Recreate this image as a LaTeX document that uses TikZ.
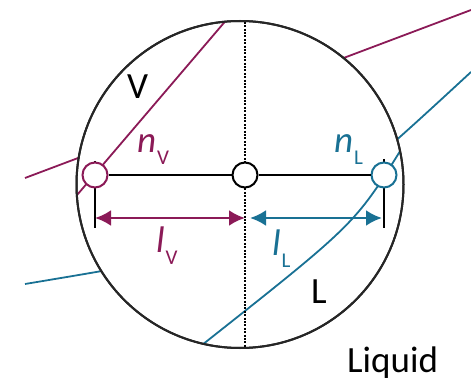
\documentclass[tikz,border=0pt]{standalone}
\usepackage{fontspec}
\setmainfont{Carlito}
\usetikzlibrary{arrows.meta}
\definecolor{mag}{RGB}{139,26,87}
\definecolor{blu}{RGB}{25,113,148}
\newcommand{\sublab}[2]{{\itshape #1}\hspace{1pt}\raisebox{-12pt}{\fontsize{21}{21}\selectfont #2}}
\begin{document}
\begin{tikzpicture}[x=1pt,y=-1pt,
  font=\fontsize{37}{42}\selectfont,
  curve/.style={line width=1.8pt},
  lensbody/.style={circle, draw=black!85, line width=2pt, fill=white, minimum size=327pt, inner sep=0pt},
  pt/.style={circle, draw, line width=2pt, fill=white, minimum size=25pt, inner sep=0pt},
  tickline/.style={line width=2.8pt},
  bar/.style={line width=2.8pt},
  dim/.style={line width=2.8pt, {Latex[length=16pt,width=16pt]}-{Latex[length=16pt,width=16pt]}},
  midline/.style={line width=1.6pt, dash pattern=on 2pt off 1.4pt}
]
\useasboundingbox (0,0) rectangle (471,382);
% outside (unmagnified) curves
\coordinate (mo1) at (25,178);
\coordinate (mo2) at (471,10);
\coordinate (bo1) at (25,284);
\coordinate (bo2) at (471,72);
\draw[curve, mag] (mo1) -- (mo2);
\draw[curve, blu] (bo1) .. controls (289,240) .. (bo2);
% lens
\node[lensbody] (lens) at (240,184.5) {};
\begin{scope}
  \clip (240,184.5) circle (163.5pt);
  \coordinate (mi1) at (60,215);
  \coordinate (mi2) at (240,4);
  \coordinate (bi1) at (202,345);
  \coordinate (bi2) at (402,148);
  \coordinate (dtop) at (245,15);
  \coordinate (dbot) at (245,355);
  \draw[curve, mag] (mi1) -- (mi2);
  \draw[curve, blu] (bi1) .. controls (355,224) .. (bi2);
  \draw[midline] (dtop) -- (dbot);
\end{scope}
\draw[line width=2pt, black!85] (240,184.5) circle (163.5pt);
% ticks
\coordinate (tV1) at (95,161);
\coordinate (tV2) at (95,228);
\coordinate (tL1) at (384,159);
\coordinate (tL2) at (384,228);
\draw[tickline] (tV1) -- (tV2);
\draw[tickline] (tL1) -- (tL2);
% points
\node[pt, draw=mag] (nV) at (95,175) {};
\node[pt, draw=black] (nM) at (245,175) {};
\node[pt, draw=blu] (nL) at (384,175) {};
\draw[bar] (nV) -- (nM);
\draw[bar] (nM) -- (nL);
% dimension arrows
\coordinate (aV1) at (95,218);
\coordinate (aV2) at (245,218);
\coordinate (aL1) at (250,218);
\coordinate (aL2) at (382,218);
\draw[dim, mag] (aV1) -- (aV2);
\draw[dim, blu] (aL1) -- (aL2);
% labels
\node[anchor=base west, inner sep=0pt, text=mag] (lnV) at (137,153) {\sublab{n}{V}};
\node[anchor=base west, inner sep=0pt, text=mag] (llV) at (156,252) {\sublab{l}{V}};
\node[anchor=base west, inner sep=0pt, text=blu] (lnL) at (334,153) {\sublab{n}{L}};
\node[anchor=base west, inner sep=0pt, text=blu] (llL) at (272,255) {\sublab{l}{L}};
\node[anchor=base west, inner sep=0pt, font=\fontsize{37}{40}\selectfont] (lV) at (127,99) {V};
\node[anchor=base west, inner sep=0pt, font=\fontsize{37}{40}\selectfont] (lL) at (311,303) {L};
\node[anchor=base west, inner sep=0pt] (liq) at (347,372) {Liquid};
\end{tikzpicture}
\end{document}
